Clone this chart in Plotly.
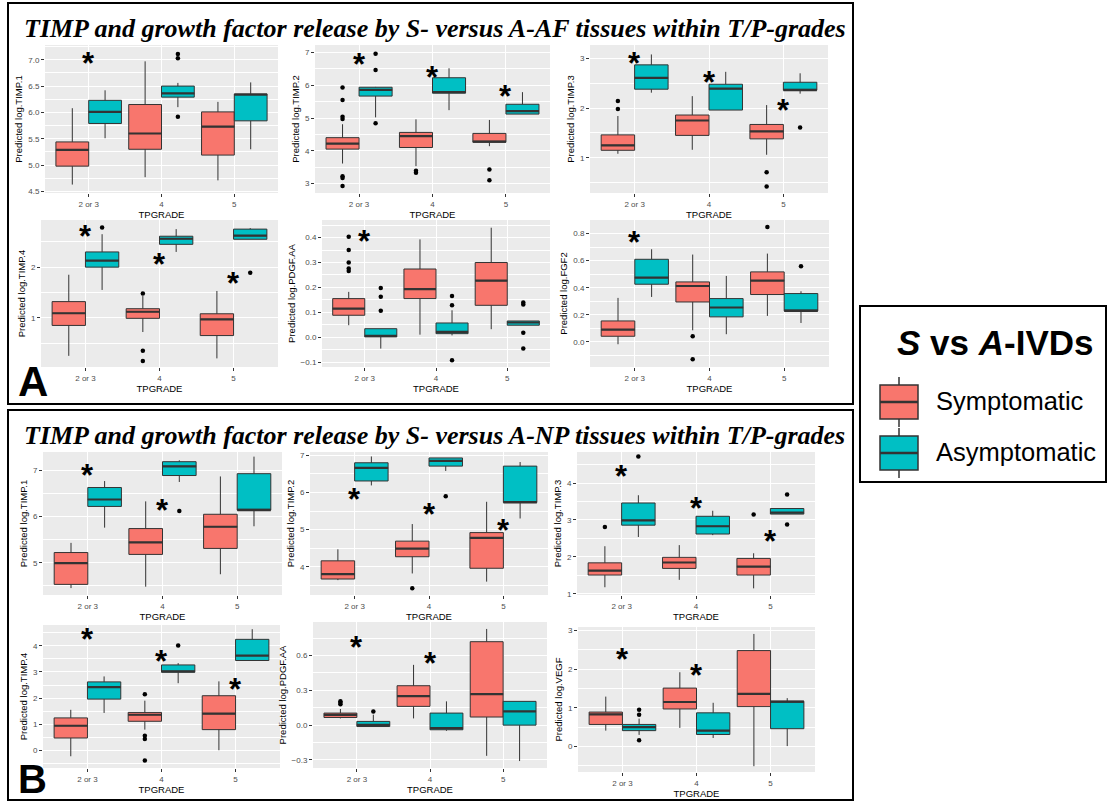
import plotly.graph_objects as go

W, H = 1108, 802
CATS = ["2 or 3", "4", "5"]
S_COLOR = "#F8766D"
A_COLOR = "#00BFC4"

# rows per TPGRADE: [lower whisker, q1, median, q3, upper whisker]
A_TIMP1_S = [[4.63, 4.98, 5.29, 5.44, 6.08], [4.77, 5.30, 5.60, 6.15, 6.97], [4.71, 5.19, 5.73, 6.01, 6.20]]
A_TIMP1_A = [[5.51, 5.79, 6.01, 6.23, 6.42], [6.10, 6.29, 6.36, 6.50, 6.56], [5.30, 5.84, 6.34, 6.35, 6.57]]
A_TIMP1_S_OUT = []
A_TIMP1_A_OUT = [[2, 7.11], [2, 7.03], [2, 5.92]]
A_TIMP1_STAR = [[1, 7.03]]

A_TIMP2_S = [[3.61, 4.05, 4.22, 4.40, 4.81], [3.53, 4.10, 4.45, 4.56, 4.96], [4.14, 4.26, 4.28, 4.53, 4.94]]
A_TIMP2_A = [[5.02, 5.67, 5.86, 5.94, 5.95], [5.24, 5.76, 5.79, 6.23, 6.52], [5.12, 5.12, 5.21, 5.42, 5.79]]
A_TIMP2_S_OUT = [[1, 5.93], [1, 5.55], [1, 5.04], [1, 4.97], [1, 3.22], [1, 3.17], [1, 2.92],
                 [2, 3.39], [2, 3.33], [3, 3.43], [3, 3.10]]
A_TIMP2_A_OUT = [[1, 6.96], [1, 6.47], [1, 4.84]]
A_TIMP2_STAR = [[1, 6.80], [2, 6.40], [3, 5.81]]

A_TIMP3_S = [[1.08, 1.15, 1.25, 1.46, 1.84], [1.16, 1.45, 1.75, 1.86, 2.24], [1.06, 1.38, 1.53, 1.67, 2.06]]
A_TIMP3_A = [[2.31, 2.38, 2.61, 2.87, 3.08], [1.96, 1.96, 2.39, 2.48, 2.73], [2.29, 2.36, 2.36, 2.52, 2.70]]
A_TIMP3_S_OUT = [[1, 2.14], [1, 1.98], [3, 0.71], [3, 0.42]]
A_TIMP3_A_OUT = [[3, 1.61]]
A_TIMP3_STAR = [[1, 3.00], [2, 2.62], [3, 2.06]]

A_TIMP4_S = [[0.25, 0.85, 1.09, 1.32, 1.85], [0.72, 0.99, 1.12, 1.18, 1.43], [0.20, 0.65, 0.97, 1.08, 1.53]]
A_TIMP4_A = [[1.55, 2.00, 2.13, 2.30, 2.65], [2.30, 2.45, 2.56, 2.61, 2.75], [2.55, 2.55, 2.62, 2.75, 2.77]]
A_TIMP4_S_OUT = [[2, 1.48], [2, 0.35], [2, 0.15]]
A_TIMP4_A_OUT = [[1, 2.78], [3, 1.89]]
A_TIMP4_STAR = [[1, 2.70], [2, 2.15], [3, 1.77]]

A_PDGF_S = [[0.048, 0.088, 0.115, 0.155, 0.182], [0.010, 0.155, 0.193, 0.274, 0.393], [0.032, 0.128, 0.227, 0.300, 0.440]]
A_PDGF_A = [[-0.046, 0.001, 0.005, 0.034, 0.034], [0.007, 0.014, 0.021, 0.057, 0.108], [0.048, 0.048, 0.059, 0.065, 0.065]]
A_PDGF_S_OUT = [[1, 0.404], [1, 0.350], [1, 0.300], [1, 0.276], [1, 0.266]]
A_PDGF_A_OUT = [[1, 0.198], [1, 0.162], [1, 0.106], [2, 0.165], [2, 0.128], [2, -0.093],
                [3, 0.139], [3, 0.131], [3, 0.018], [3, -0.046]]
A_PDGF_STAR = [[1, 0.404]]

A_FGF2_S = [[-0.017, 0.042, 0.091, 0.155, 0.325], [0.086, 0.295, 0.413, 0.443, 0.645], [0.192, 0.350, 0.453, 0.517, 0.652]]
A_FGF2_A = [[0.332, 0.426, 0.475, 0.610, 0.684], [0.057, 0.185, 0.254, 0.320, 0.487], [0.140, 0.229, 0.229, 0.357, 0.374]]
A_FGF2_S_OUT = [[2, 0.042], [2, -0.128], [3, 0.849]]
A_FGF2_A_OUT = [[3, 0.559]]
A_FGF2_STAR = [[1, 0.77]]

B_TIMP1_S = [[4.45, 4.53, 4.99, 5.22, 5.43], [4.48, 5.18, 5.44, 5.74, 6.33], [4.75, 5.31, 5.78, 6.05, 6.87]]
B_TIMP1_A = [[5.76, 6.22, 6.37, 6.63, 6.77], [6.75, 6.89, 7.09, 7.19, 7.22], [5.79, 6.14, 6.14, 6.93, 7.30]]
B_TIMP1_S_OUT = []
B_TIMP1_A_OUT = [[2, 6.12]]
B_TIMP1_STAR = [[1, 7.00], [2, 6.24]]

B_TIMP2_S = [[3.64, 3.67, 3.80, 4.16, 4.47], [3.82, 4.27, 4.49, 4.69, 5.15], [3.60, 3.96, 4.78, 4.92, 5.75]]
B_TIMP2_A = [[6.19, 6.31, 6.66, 6.80, 6.97], [6.58, 6.71, 6.85, 6.93, 6.93], [5.30, 5.73, 5.73, 6.71, 6.82]]
B_TIMP2_S_OUT = [[2, 3.42]]
B_TIMP2_A_OUT = [[2, 5.90]]
B_TIMP2_STAR = [[1, 5.95], [2, 5.54], [3, 5.12]]

B_TIMP3_S = [[1.18, 1.51, 1.63, 1.84, 2.29], [1.38, 1.69, 1.85, 1.99, 2.32], [1.15, 1.51, 1.74, 1.96, 2.10]]
B_TIMP3_A = [[2.54, 2.86, 2.99, 3.46, 3.67], [2.59, 2.62, 2.83, 3.10, 3.25], [3.16, 3.16, 3.20, 3.31, 3.31]]
B_TIMP3_S_OUT = [[1, 2.81], [3, 3.15]]
B_TIMP3_A_OUT = [[1, 4.72], [3, 3.69], [3, 2.88]]
B_TIMP3_STAR = [[1, 4.32], [2, 3.44], [3, 2.54]]

B_TIMP4_S = [[-0.23, 0.47, 0.94, 1.24, 1.55], [0.79, 1.11, 1.36, 1.45, 1.90], [0.00, 0.79, 1.40, 2.09, 2.64]]
B_TIMP4_A = [[1.43, 1.96, 2.42, 2.62, 2.83], [2.57, 2.99, 3.02, 3.27, 3.34], [3.44, 3.44, 3.63, 4.25, 4.64]]
B_TIMP4_S_OUT = [[2, 2.15], [2, 0.56], [2, 0.43], [2, -0.39]]
B_TIMP4_A_OUT = [[2, 4.01]]
B_TIMP4_STAR = [[1, 4.42], [2, 3.59], [3, 2.51]]

B_PDGF_S = [[0.058, 0.066, 0.089, 0.104, 0.139], [0.058, 0.162, 0.250, 0.340, 0.520], [-0.265, 0.070, 0.268, 0.720, 0.830]]
B_PDGF_A = [[-0.012, -0.012, 0.003, 0.032, 0.090], [-0.049, -0.040, -0.026, 0.104, 0.205], [-0.310, 0.000, 0.118, 0.205, 0.205]]
B_PDGF_S_OUT = [[1, 0.205], [1, 0.193], [1, 0.180]]
B_PDGF_A_OUT = [[1, 0.118]]
B_PDGF_STAR = [[1, 0.71], [2, 0.577]]

B_VEGF_S = [[0.41, 0.57, 0.83, 0.89, 1.29], [0.48, 0.97, 1.15, 1.51, 1.92], [-0.51, 1.03, 1.36, 2.48, 2.91]]
B_VEGF_A = [[0.30, 0.41, 0.50, 0.57, 0.72], [0.22, 0.31, 0.41, 0.87, 1.13], [0.01, 0.46, 1.16, 1.17, 1.25]]
B_VEGF_S_OUT = []
B_VEGF_A_OUT = [[1, 0.95], [1, 0.82], [1, 0.16]]
B_VEGF_STAR = [[1, 2.37], [2, 1.97]]

Y_TITLES = ["Predicted log.TIMP.1", "Predicted log.TIMP.2", "Predicted log.TIMP.3",
            "Predicted log.TIMP.4", "Predicted log.PDGF.AA", "Predicted log.FGF2",
            "Predicted log.TIMP.1", "Predicted log.TIMP.2", "Predicted log.TIMP.3",
            "Predicted log.TIMP.4", "Predicted log.PDGF.AA", "Predicted log.VEGF"]

PANEL_DATA = [
    (A_TIMP1_S, A_TIMP1_A, A_TIMP1_S_OUT, A_TIMP1_A_OUT, A_TIMP1_STAR),
    (A_TIMP2_S, A_TIMP2_A, A_TIMP2_S_OUT, A_TIMP2_A_OUT, A_TIMP2_STAR),
    (A_TIMP3_S, A_TIMP3_A, A_TIMP3_S_OUT, A_TIMP3_A_OUT, A_TIMP3_STAR),
    (A_TIMP4_S, A_TIMP4_A, A_TIMP4_S_OUT, A_TIMP4_A_OUT, A_TIMP4_STAR),
    (A_PDGF_S, A_PDGF_A, A_PDGF_S_OUT, A_PDGF_A_OUT, A_PDGF_STAR),
    (A_FGF2_S, A_FGF2_A, A_FGF2_S_OUT, A_FGF2_A_OUT, A_FGF2_STAR),
    (B_TIMP1_S, B_TIMP1_A, B_TIMP1_S_OUT, B_TIMP1_A_OUT, B_TIMP1_STAR),
    (B_TIMP2_S, B_TIMP2_A, B_TIMP2_S_OUT, B_TIMP2_A_OUT, B_TIMP2_STAR),
    (B_TIMP3_S, B_TIMP3_A, B_TIMP3_S_OUT, B_TIMP3_A_OUT, B_TIMP3_STAR),
    (B_TIMP4_S, B_TIMP4_A, B_TIMP4_S_OUT, B_TIMP4_A_OUT, B_TIMP4_STAR),
    (B_PDGF_S, B_PDGF_A, B_PDGF_S_OUT, B_PDGF_A_OUT, B_PDGF_STAR),
    (B_VEGF_S, B_VEGF_A, B_VEGF_S_OUT, B_VEGF_A_OUT, B_VEGF_STAR),
]

# layout: pixel box of each grey panel (x0, x1, ytop, ybottom), y range, tick step, format
PANEL_LAYOUT = [
    ((45, 278, 45, 193), (4.47, 7.28), 0.5, ".1f"),
    ((315, 550, 45, 193), (2.71, 7.23), 1, "d"),
    ((590, 828, 45, 193), (0.29, 3.27), 1, "d"),
    ((41, 278, 220, 367), (0.03, 2.93), 1, "d"),
    ((322, 550, 220, 367), (-0.12, 0.471), 0.1, ".1f"),
    ((590, 829, 220, 367), (-0.185, 0.90), 0.2, ".1f"),
    ((43, 282, 452, 595), (4.30, 7.40), 1, "d"),
    ((310, 548, 452, 595), (3.24, 7.09), 1, "d"),
    ((577, 815, 452, 595), (0.97, 4.84), 1, "d"),
    ((43, 280, 625, 768), (-0.68, 4.80), 1, "d"),
    ((313, 547, 622, 768), (-0.37, 0.89), 0.3, ".1f"),
    ((578, 815, 627, 772), (-0.66, 3.09), 1, "d"),
]

HALF = 0.225
fig = go.Figure()
annotations = []
layout = {}

for k, ((s_stats, a_stats, s_out, a_out, stars), (box, yr, step, fmt), ytitle) in enumerate(
        zip(PANEL_DATA, PANEL_LAYOUT, Y_TITLES), start=1):
    sfx = "" if k == 1 else str(k)
    xa, ya = "x" + sfx, "y" + sfx
    for stats, outs, color, off in ((s_stats, s_out, S_COLOR, -HALF), (a_stats, a_out, A_COLOR, HALF)):
        pos = [i + 1 + off for i in range(len(stats))]
        fig.add_trace(go.Box(
            x=pos, orientation="v",
            lowerfence=[r[0] for r in stats], q1=[r[1] for r in stats], median=[r[2] for r in stats],
            q3=[r[3] for r in stats], upperfence=[r[4] for r in stats],
            width=2 * HALF, fillcolor=color, line=dict(color="#333333", width=1),
            whiskerwidth=0, boxpoints=False, xaxis=xa, yaxis=ya, showlegend=False, hoverinfo="skip"))
        mx, my = [], []
        for p, r in zip(pos, stats):
            mx += [p - HALF, p + HALF, None]
            my += [r[2], r[2], None]
        fig.add_trace(go.Scatter(x=mx, y=my, mode="lines", line=dict(color="#333333", width=2.2),
                                 xaxis=xa, yaxis=ya, showlegend=False, hoverinfo="skip"))
        if outs:
            fig.add_trace(go.Scatter(x=[o[0] + off for o in outs], y=[o[1] for o in outs], mode="markers",
                                     marker=dict(color="black", size=4.5), xaxis=xa, yaxis=ya,
                                     showlegend=False, hoverinfo="skip"))
    for c, yv in stars:
        annotations.append(dict(x=c, y=yv, xref=xa, yref=ya, text="<b>*</b>", showarrow=False,
                                font=dict(family="Liberation Sans", size=31, color="black"),
                                yanchor="middle", yshift=-5))
    x0, x1, yt, yb = box
    layout["xaxis" + sfx] = dict(
        domain=[x0 / W, x1 / W], anchor=ya, range=[0.4, 3.6], tickmode="array",
        tickvals=[1, 2, 3], ticktext=CATS, showgrid=True, gridcolor="white", gridwidth=1,
        zeroline=False, ticks="outside", ticklen=3, tickcolor="#333333",
        tickfont=dict(family="Liberation Sans", size=8, color="#4D4D4D"),
        title=dict(text="TPGRADE", font=dict(family="Liberation Sans", size=9.5, color="black"), standoff=0),
        showline=False, fixedrange=True, automargin=False)
    layout["yaxis" + sfx] = dict(
        domain=[1 - yb / H, 1 - yt / H], anchor=xa, range=list(yr), tickmode="linear", tick0=0,
        dtick=step, tickformat=fmt, showgrid=True, gridcolor="white", gridwidth=1, zeroline=False,
        ticks="outside", ticklen=3, tickcolor="#333333",
        tickfont=dict(family="Liberation Sans", size=8, color="#4D4D4D"),
        minor=dict(dtick=step / 2, tick0=0, showgrid=True, gridcolor="white", gridwidth=0.5),
        title=dict(text=ytitle, font=dict(family="Liberation Sans", size=9.5, color="black"), standoff=3),
        showline=False, fixedrange=True, automargin=False)

def px(x):
    return x / W

def py(y):
    return 1 - y / H

shapes = []
# group frames and legend frame
for (x0, y0, x1, y1) in [(8, 3, 853, 404), (8, 410, 853, 800), (860, 306, 1106, 482)]:
    shapes.append(dict(type="rect", xref="paper", yref="paper", x0=px(x0), x1=px(x1), y0=py(y1), y1=py(y0),
                       line=dict(color="black", width=2), fillcolor="rgba(0,0,0,0)", layer="above"))
# legend keys
for color, ytop in ((S_COLOR, 385), (A_COLOR, 436)):
    ybot = ytop + 34
    shapes.append(dict(type="line", xref="paper", yref="paper", x0=px(899), x1=px(899), y0=py(ytop - 8),
                       y1=py(ybot + 8), line=dict(color="#333333", width=1.5)))
    shapes.append(dict(type="rect", xref="paper", yref="paper", x0=px(880), x1=px(918), y0=py(ybot), y1=py(ytop),
                       fillcolor=color, line=dict(color="#333333", width=1.5)))
    shapes.append(dict(type="line", xref="paper", yref="paper", x0=px(880), x1=px(918), y0=py(ytop + 17),
                       y1=py(ytop + 17), line=dict(color="#333333", width=2.5)))

annotations += [
    dict(x=px(22), y=py(28), xref="paper", yref="paper", xanchor="left", yanchor="middle", showarrow=False,
         text="<b><i>TIMP and growth factor release by S- versus A-AF tissues within T/P-grades</i></b>",
         font=dict(family="Liberation Serif", size=26, color="black")),
    dict(x=px(22), y=py(435), xref="paper", yref="paper", xanchor="left", yanchor="middle", showarrow=False,
         text="<b><i>TIMP and growth factor release by S- versus A-NP tissues within T/P-grades</i></b>",
         font=dict(family="Liberation Serif", size=26, color="black")),
    dict(x=px(33), y=py(381), xref="paper", yref="paper", xanchor="center", yanchor="middle", showarrow=False,
         text="<b>A</b>", font=dict(family="Liberation Sans", size=42, color="black")),
    dict(x=px(32), y=0, xref="paper", yref="paper", xanchor="center", yanchor="bottom", showarrow=False,
         borderpad=0, text="<b>B</b>", font=dict(family="Liberation Sans", size=40, color="black")),
    dict(x=px(995), y=py(342), xref="paper", yref="paper", xanchor="center", yanchor="middle", showarrow=False,
         text="<b><i>S</i> vs <i>A</i>-IVDs</b>", font=dict(family="Liberation Sans", size=35, color="black")),
    dict(x=px(934), y=py(401), xref="paper", yref="paper", xanchor="left", yanchor="middle", showarrow=False,
         text="Symptomatic", font=dict(family="Liberation Sans", size=25.5, color="black")),
    dict(x=px(934), y=py(452), xref="paper", yref="paper", xanchor="left", yanchor="middle", showarrow=False,
         text="Asymptomatic", font=dict(family="Liberation Sans", size=25.5, color="black")),
]

fig.update_layout(
    width=W, height=H, margin=dict(l=0, r=0, t=0, b=0), paper_bgcolor="white", plot_bgcolor="#EBEBEB",
    showlegend=False, boxmode="overlay", annotations=annotations, shapes=shapes,
    font=dict(family="Liberation Sans"), **layout)

fig.write_html("out.html")
